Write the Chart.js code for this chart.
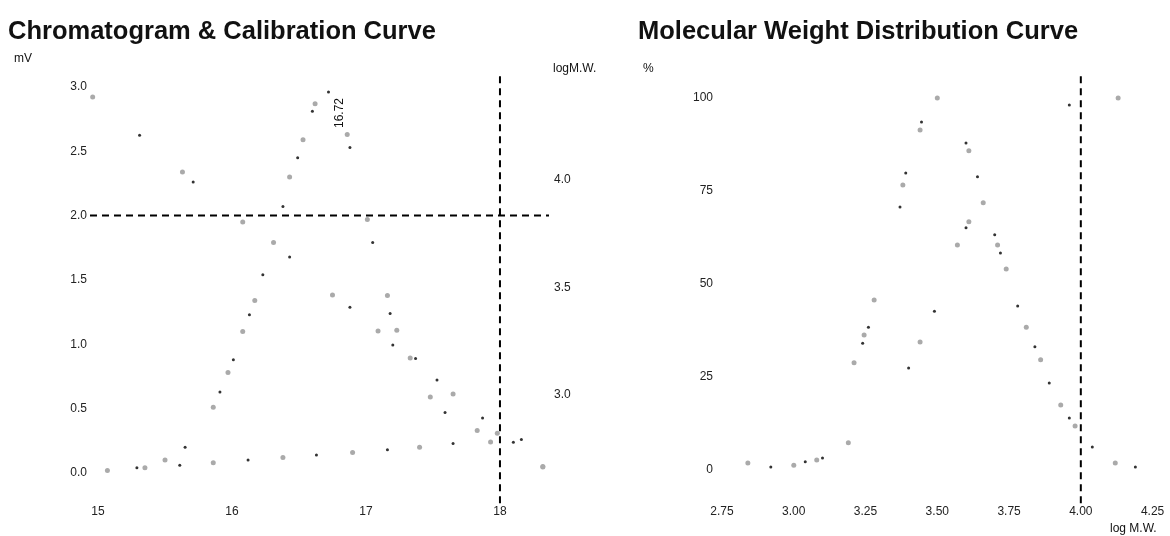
<!DOCTYPE html>
<html>
<head>
<meta charset="utf-8">
<script src="https://cdn.jsdelivr.net/npm/chart.js@4.4.1/dist/chart.umd.min.js"></script>
<style>
html,body{margin:0;padding:0;background:#fff;}
#wrap{position:relative;width:1170px;height:536px;overflow:hidden;font-family:"Liberation Sans",Arial,sans-serif;color:#111;}
canvas{position:absolute;top:0;}
#c1{left:0;}
#c2{left:585px;}
.t{position:absolute;white-space:nowrap;font-size:12px;line-height:14px;z-index:2;}
.title{position:absolute;white-space:nowrap;font-weight:bold;font-size:25.5px;line-height:30px;top:15px;z-index:2;}
</style>
</head>
<body>
<div id="wrap">
  <canvas id="c1" width="585" height="536"></canvas>
  <canvas id="c2" width="585" height="536"></canvas>
  <div class="title" style="left:8px;">Chromatogram &amp; Calibration Curve</div>
  <div class="title" style="left:638px;">Molecular Weight Distribution Curve</div>
  <div class="t" style="left:14px;top:51px;">mV</div>
  <div class="t" style="left:553px;top:61px;">logM.W.</div>
  <div class="t" style="left:643px;top:61px;">%</div>
  <div class="t" style="left:1110px;top:521px;">log M.W.</div>
</div>
<script>
// ---------- data ----------
const chromTime = [15.07,15.29,15.50,15.65,15.86,15.91,15.97,16.01,16.08,16.13,16.17,16.23,16.31,16.38,16.43,16.49,16.53,16.60,16.62,16.72,16.86,16.88,17.01,17.05,17.16,17.18,17.23,17.37,17.48,17.59,17.83,17.93,18.32];
const chromMV   = [0.02,0.04,0.10,0.20,0.51,0.63,0.78,0.88,1.10,1.23,1.34,1.54,1.79,2.07,2.30,2.45,2.59,2.81,2.87,2.96,2.63,2.53,1.97,1.79,1.38,1.24,1.11,0.89,0.59,0.47,0.33,0.24,0.05];

const baseTime = [15.35,15.61,15.86,16.12,16.38,16.63,16.90,17.16,17.40,17.65,17.93,18.16];
const baseMV   = [0.04,0.06,0.08,0.10,0.12,0.14,0.16,0.18,0.20,0.23,0.24,0.26];

const calibTime  = [14.96,15.31,15.63,15.71,16.08,16.43,16.75,16.88,17.09,17.20,17.33,17.53,17.65,17.87,17.98,18.10,18.32];
const calibLogMW = [4.386,4.209,4.037,3.991,3.805,3.642,3.465,3.409,3.298,3.233,3.172,3.070,3.005,2.893,2.823,2.781,2.665];

const distLogMW = [2.84,2.92,3.00,3.04,3.08,3.10,3.21,3.24,3.245,3.26,3.28,3.37,3.38,3.39,3.44,3.445,3.50,3.60,3.61,3.64,3.66,3.70,3.71,3.72,3.74,3.78,3.81,3.84,3.86,3.89,3.93,3.96,3.98,4.04,4.12,4.19];
const distPct   = [1.9,0.8,1.3,2.2,2.7,3.2,28.8,34.1,36.3,38.4,45.7,70.7,76.6,79.8,91.4,93.5,100,87.9,85.8,78.8,71.8,63.2,60.5,58.3,54.0,44.1,38.4,33.1,29.6,23.4,17.5,14.0,11.8,6.2,1.9,0.8];

const cumLogMW = [3.19,3.40,3.44,3.49,3.57,3.60,3.61,3.96,4.13];
const cumPct   = [7.3,27.4,34.4,42.7,60.5,65.1,66.7,98.1,100];

const chromXTicks = [15,16,17,18];
const mvTicks     = [0,0.5,1.0,1.5,2.0,2.5,3.0];
const logMWTicks  = [3.0,3.5,4.0];
const mwdXTicks   = [2.75,3.00,3.25,3.50,3.75,4.00,4.25];
const pctTicks    = [0,25,50,75,100];

const peakTime = 16.72, peakMV = 2.96, peakLabel = "16.72";
const cutoffTime = 18, cutoffMV = 2.0, cutoffLogMW = 4.00;

// ---------- helpers ----------
const zip = (xs, ys) => xs.map((x, i) => ({x, y: ys[i]}));
const tickFont = {family: '"Liberation Sans", Arial, sans-serif', size: 12};
const tickColor = '#222';
const ptColor = c => (c.dataIndex % 2 ? '#333' : '#aaa');
const ptRadius = c => (c.dataIndex % 2 ? 1.5 : 2.5);
const fixTicks = arr => (s => { s.ticks = arr.map(v => ({value: v})); });
const dots = (data, yAxisID) => ({
  type: 'scatter', data, yAxisID, showLine: false,
  pointRadius: ptRadius, pointHoverRadius: ptRadius,
  pointBackgroundColor: ptColor, pointBorderWidth: 0
});
const dash = (data, yAxisID) => ({
  type: 'line', data, yAxisID, showLine: true, pointRadius: 0,
  borderColor: '#000', borderWidth: 2, borderDash: [7, 5], clip: false, tension: 0
});
const axisBase = (arr, fmt, pad) => ({
  type: 'linear', afterBuildTicks: fixTicks(arr),
  grid: {display: false, drawTicks: false}, border: {display: false},
  ticks: {font: tickFont, color: tickColor, padding: pad, autoSkip: false, maxRotation: 0, callback: fmt}
});

Chart.defaults.animation = false;
Chart.defaults.font.family = '"Liberation Sans", Arial, sans-serif';

// rotated peak label
const peakLabelPlugin = {
  id: 'peakLabel',
  afterDatasetsDraw(chart) {
    const {ctx, scales} = chart;
    const x = scales.x.getPixelForValue(peakTime) + 11;
    const y = scales.y.getPixelForValue(peakMV) + 36;
    ctx.save();
    ctx.translate(x, y);
    ctx.rotate(-Math.PI / 2);
    ctx.font = '12px "Liberation Sans", Arial, sans-serif';
    ctx.fillStyle = '#111';
    ctx.textAlign = 'left';
    ctx.textBaseline = 'middle';
    ctx.fillText(peakLabel, 0, 0);
    ctx.restore();
  }
};

// ---------- chart 1: chromatogram & calibration ----------
const x1 = axisBase(chromXTicks, v => String(v), 4);
x1.min = 14.94; x1.max = 18.366; x1.afterFit = s => { s.height = 36; };
const y1 = axisBase(mvTicks, v => v.toFixed(1), 3);
y1.position = 'left'; y1.min = -0.21; y1.max = 3.108; y1.afterFit = s => { s.width = 90; };
const y1r = axisBase(logMWTicks, v => v.toFixed(1), 5);
y1r.position = 'right'; y1r.min = 2.512; y1r.max = 4.498; y1r.afterFit = s => { s.width = 36; };

new Chart(document.getElementById('c1'), {
  type: 'scatter',
  data: {
    datasets: [
      dots(zip(baseTime, baseMV), 'y'),
      dots(zip(chromTime, chromMV), 'y'),
      dots(zip(calibTime, calibLogMW), 'y2'),
      dash([{x: x1.min, y: cutoffMV}, {x: x1.max, y: cutoffMV}], 'y'),
      dash([{x: cutoffTime, y: -0.235}, {x: cutoffTime, y: y1.max}], 'y')
    ]
  },
  options: {
    responsive: false, devicePixelRatio: 1,
    layout: {padding: {top: 73, left: 0, right: 0, bottom: 0}},
    plugins: {legend: {display: false}, title: {display: false}, tooltip: {enabled: false}},
    scales: {x: x1, y: y1, y2: y1r}
  },
  plugins: [peakLabelPlugin]
});

// ---------- chart 2: molecular weight distribution ----------
const x2 = axisBase(mwdXTicks, v => v.toFixed(2), 4);
x2.min = 2.729; x2.max = 4.302; x2.afterFit = s => { s.height = 36; };
const y2 = axisBase(pctTicks, v => String(v), 3);
y2.position = 'left'; y2.min = -8.06; y2.max = 106.7; y2.afterFit = s => { s.width = 131; };

new Chart(document.getElementById('c2'), {
  type: 'scatter',
  data: {
    datasets: [
      dots(zip(distLogMW, distPct), 'y'),
      dots(zip(cumLogMW, cumPct), 'y'),
      dash([{x: cutoffLogMW, y: -8.9}, {x: cutoffLogMW, y: y2.max}], 'y')
    ]
  },
  options: {
    responsive: false, devicePixelRatio: 1,
    layout: {padding: {top: 73, left: 0, right: 0, bottom: 0}},
    plugins: {legend: {display: false}, title: {display: false}, tooltip: {enabled: false}},
    scales: {x: x2, y: y2}
  }
});
</script>
</body>
</html>
